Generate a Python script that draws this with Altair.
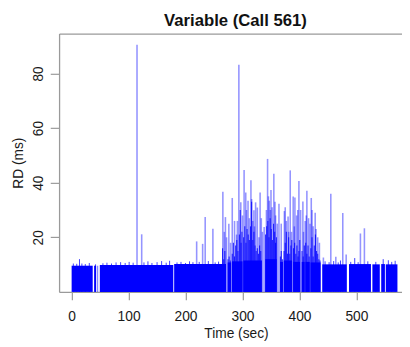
import altair as alt
import pandas as pd

# ---- data ----
# solid base of the series (time segments with values around 10 ms)
seg_start = [0, 39.5, 45.5, 49.5, 180, 274, 281.5, 301.5, 340, 366, 372.5, 389, 404, 410.5, 419.5, 440, 487, 528, 543.5, 551.5]
seg_end   = [37, 43, 46.5, 178.5, 271, 280, 300, 334, 360, 371, 387, 401, 409, 418, 437, 483, 525.5, 541, 550, 572]
seg_level = [9.6, 9.6, 9.6, 9.9, 10.2, 10.8, 11.2, 11.5, 12.0, 11.0, 11.5, 11.0, 11.0, 11.0, 10.8, 10.1, 10.2, 10.1, 10.2, 10.1]

# small bumps on top of the base
jit_t = [3, 9, 13.8, 18, 24, 31, 42, 55, 62, 70, 78, 86, 94, 101, 108, 127, 134, 141, 150, 158, 166, 172,
         185, 192, 200, 207, 213, 224, 240, 252, 258, 445, 452, 460, 468, 472, 490, 497, 503, 520, 534,
         547, 556, 562, 568]
jit_v = [10.4, 10.3, 12.0, 10.4, 10.2, 10.6, 10.1, 10.5, 10.7, 10.4, 10.8, 10.9, 10.6, 11.0, 10.7, 10.8,
         11.2, 10.6, 10.9, 11.3, 10.7, 11.4, 10.8, 11.0, 10.6, 11.2, 10.9, 11.0, 11.3, 10.8, 11.1, 11.2,
         10.9, 11.3, 10.8, 11.5, 11.0, 12.4, 10.9, 11.2, 11.0, 12.0, 11.6, 11.0, 11.4]

# dense (overlapping) calls in the busy middle part
dense_t = [265, 267, 269, 274.5, 276.5, 278.5, 282, 284, 286, 288, 290, 292, 294.5, 296, 297.5, 299,
           302, 304, 306, 308, 310, 312, 314, 316, 318, 320, 322, 324, 326, 328, 330, 332,
           340.5, 342.5, 344.5, 346.5, 348.5, 350.5, 352.5, 354.5, 356.5, 358, 359.5,
           366.5, 368, 370, 373, 375, 377, 379, 381, 383, 385, 386.5,
           389.5, 391.5, 393.5, 395.5, 397.5, 399, 400.5, 404.5, 406.5, 408.5,
           411, 413, 415, 417, 420, 422, 424, 426, 428, 430, 432, 434, 436]
dense_v = [16, 12, 15, 12, 13, 11.5, 14, 18, 13, 17, 19, 15, 21, 30, 18, 22,
           20, 24, 18, 23, 21, 19, 24, 33, 19, 22, 17, 15, 16, 14, 17, 15,
           21, 24, 26, 20, 27, 23, 19, 25, 22, 18, 20,
           13, 15, 12, 15, 18, 22, 14, 20, 14, 17, 19,
           16, 18, 14, 17, 13, 15, 19, 15, 13, 17,
           18, 14, 17, 13, 16, 20, 13, 17, 21, 15, 14, 12, 11.5]

# individual spikes
spk_t = [114.8, 123, 219.5, 230, 234.5, 248, 265.5, 268, 270, 272, 276, 279, 282, 286, 289.6, 291,
         293.6, 297, 300, 302.8, 305.7, 307, 309.7, 312, 314.8, 316, 318, 320, 321, 323, 326, 329,
         330.9, 333, 335, 338, 342, 344, 345.5, 347, 349, 350, 352, 355, 357, 358, 361, 364, 368,
         373.5, 375, 377, 380, 381, 383.8, 386, 389, 391, 392, 395, 397, 399, 402, 406, 407, 410,
         412, 413, 416, 418.5, 420.7, 422, 424, 427.6, 429, 432, 435, 442, 455, 463.8, 476, 482,
         507, 514]
spk_v = [90.5, 21.1, 18.5, 17.6, 27.4, 23.1, 36.7, 22, 27.4, 20.0, 25, 18, 34.4, 26, 21.0, 26,
         83.2, 32.8, 28, 44.6, 36.4, 30, 33.4, 27, 40.9, 34.0, 26, 29.9, 24, 32.8, 30.9, 20,
         36.4, 27, 22, 23.8, 30, 48.7, 35, 33.4, 30, 37.3, 31, 43.3, 33, 28, 25, 32.3, 25,
         29.6, 31, 26, 27.6, 22, 44.5, 22, 34.9, 24, 34.6, 28, 30, 40.6, 30, 33.1, 22, 26,
         28, 37.0, 27, 25, 34.4, 30, 24, 29.0, 23, 20, 18, 12.6, 35.9, 12.9, 28.9, 13.7,
         21.4, 23.3]

x_ticks = [0, 100, 200, 300, 400, 500]
y_ticks = [20, 40, 60, 80]

base_df = pd.DataFrame({"s": seg_start, "e": seg_end, "v": seg_level, "z": 0.0})
jit_df = pd.DataFrame({"t": jit_t, "v": jit_v, "z": 0.0})
dense_df = pd.DataFrame({"t": dense_t, "v": dense_v, "z": 0.0})
spk_df = pd.DataFrame({"t": spk_t, "v": spk_v, "z": 0.0})

FONT = "Liberation Sans"
xscale = alt.Scale(domain=[-22, 580], nice=False, zero=False)
yscale = alt.Scale(domain=[0, 94.6], nice=False, zero=False)

yaxis = alt.Axis(values=y_ticks, labelAngle=270, labelAlign="center", labelBaseline="alphabetic",
                 labelPadding=8, tickSize=9, title="RD (ms)", titlePadding=6, grid=False)
xaxis = alt.Axis(values=x_ticks, tickSize=8, labelPadding=9.6, title="Time (sec)", titlePadding=3.4,
                 grid=False, labelFlush=False, titleX=180)
topaxis = alt.Axis(orient="top", labels=False, ticks=False, title=None, grid=False)

base = alt.Chart(base_df).mark_rect(color="#0000ff").encode(
    x=alt.X("s:Q", scale=xscale, axis=xaxis),
    x2="e:Q",
    y=alt.Y("v:Q", scale=yscale, axis=yaxis),
    y2="z:Q",
)
jit = alt.Chart(jit_df).mark_rule(color="#0000ff", strokeWidth=1, opacity=0.75).encode(
    x=alt.X("t:Q", scale=xscale, axis=None),
    y=alt.Y("v:Q", scale=yscale, axis=yaxis),
    y2="z:Q",
)
dense = alt.Chart(dense_df).mark_rule(color="#0000ff", strokeWidth=1.1, opacity=0.8).encode(
    x=alt.X("t:Q", scale=xscale, axis=None),
    y=alt.Y("v:Q", scale=yscale, axis=yaxis),
    y2="z:Q",
)
spikes = alt.Chart(spk_df).mark_rule(color="#0000ff", strokeWidth=1.6, opacity=0.42).encode(
    x=alt.X("t:Q", scale=xscale, axis=topaxis),
    y=alt.Y("v:Q", scale=yscale, axis=yaxis),
    y2="z:Q",
)

chart = alt.layer(base, jit, dense, spikes).resolve_axis(x="independent").properties(
    width=349, height=263,
    padding={"left": 3, "top": 1, "right": 0, "bottom": 0},
    title=alt.TitleParams("Variable (Call 561)", fontSize=17, fontWeight="bold", font=FONT,
                          color="#111111", offset=4, anchor="middle", dx=5),
).configure_axis(
    domainColor="#9a9a9a", domainWidth=1.3, tickColor="#9a9a9a", tickWidth=1.2,
    labelColor="#1a1a1a", labelFont=FONT, labelFontSize=14,
    titleColor="#1a1a1a", titleFont=FONT, titleFontSize=14, titleFontWeight="normal",
).configure_view(strokeWidth=0)

chart.save("out.html", embed_options={"renderer": "svg", "actions": False})
